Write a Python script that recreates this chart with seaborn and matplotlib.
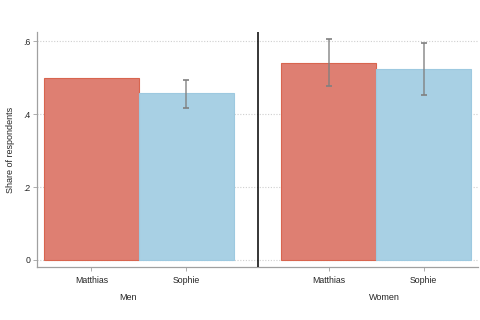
import numpy as np
import pandas as pd
import matplotlib
matplotlib.use("Agg")
import matplotlib.pyplot as plt
import seaborn as sns

# --- Data ---
groups = ["Men", "Men", "Women", "Women"]
names = ["Matthias", "Sophie", "Matthias", "Sophie"]
shares = [0.498, 0.457, 0.541, 0.524]
ci_low = [np.nan, 0.418, 0.476, 0.452]
ci_high = [np.nan, 0.493, 0.605, 0.596]
y_ticks = [0, 0.2, 0.4, 0.6]
y_tick_labels = ["0", ".2", ".4", ".6"]

# --- Style ---
FILL = {"Matthias": "#DE7F72", "Sophie": "#A8D0E4"}
EDGE = {"Matthias": "#D8654F", "Sophie": "#9DC9E0"}
GROUP_GAP = 2.5

sns.set_style("white")
plt.rcParams["font.family"] = ["Liberation Sans", "DejaVu Sans"]
plt.rcParams["font.size"] = 6.3

df = pd.DataFrame({"group": groups, "name": names, "share": shares,
                   "lo": ci_low, "hi": ci_high})
group_order = list(dict.fromkeys(groups))
name_order = list(dict.fromkeys(names))
df["pos"] = [group_order.index(g) * GROUP_GAP + name_order.index(n)
             for g, n in zip(df["group"], df["name"])]

fig = plt.figure(figsize=(4.8, 3.2), dpi=100)
ax = fig.add_axes([37 / 480, 1 - 267 / 320, (478 - 37) / 480, (267 - 32) / 320])

sns.barplot(data=df, x="pos", y="share", hue="name", hue_order=name_order,
            palette=FILL, native_scale=True, dodge=False, width=1,
            errorbar=None, legend=False, saturation=1, ax=ax)

for cont, nm in zip(ax.containers, name_order):
    for bar in cont:
        bar.set_edgecolor(EDGE[nm])
        bar.set_linewidth(0.8)

# confidence intervals (none for the Men / Matthias bar)
sub = df[df["lo"].notna()]
eb = ax.errorbar(sub["pos"], sub["share"],
                 yerr=[sub["share"] - sub["lo"], sub["hi"] - sub["share"]],
                 fmt="none", ecolor="#808080", elinewidth=1.4, capsize=2,
                 capthick=1.2, alpha=0.7, zorder=5)
for cap in eb[1]:
    cap.set_color("#4a4a4a")
    cap.set_alpha(1)

# axes
ax.set_xlim(-0.574, GROUP_GAP + 1.574)
ax.set_ylim(-0.0192, 0.625)
ax.set_yticks(y_ticks)
ax.set_yticklabels(y_tick_labels)
ax.set_xticks(df["pos"])
ax.set_xticklabels(df["name"])
ax.set_xlabel("")
ax.set_ylabel("Share of respondents", fontsize=6.5, labelpad=6)

ax.yaxis.grid(True, color="#cfcfcf", linestyle=(0, (1, 1.5)), linewidth=0.8)
ax.set_axisbelow(True)
for side in ["top", "right"]:
    ax.spines[side].set_visible(False)
for side in ["left", "bottom"]:
    ax.spines[side].set_color("#a0a0a0")
    ax.spines[side].set_linewidth(0.9)
ax.tick_params(axis="both", length=3, width=0.6, color="#a0a0a0",
               labelsize=6.3, bottom=True, left=True)
ax.tick_params(axis="y", pad=1.5)
ax.tick_params(axis="x", pad=3.5)

# separator between the two panels
ax.axvline(1 + (GROUP_GAP - 1) / 2, color="black", linewidth=1.1, zorder=6)

# group labels under the tick labels
for g, xpix in zip(group_order, [128, 384]):
    fig.text(xpix / 480, 1 - 297 / 320, g, ha="center", va="center", fontsize=6.5)

fig.savefig("out.png", dpi=100)
